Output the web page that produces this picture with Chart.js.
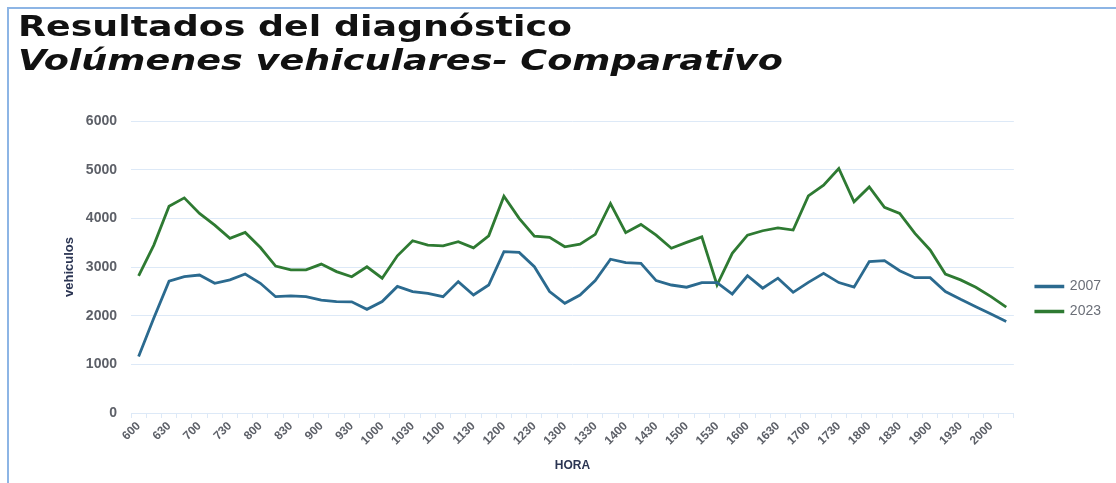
<!DOCTYPE html>
<html>
<head>
<meta charset="utf-8">
<script src="https://cdn.jsdelivr.net/npm/chart.js@4.4.1/dist/chart.umd.min.js"></script>
<style>
    html, body { margin: 0; padding: 0; background: #fff; }
    #page { position: relative; width: 1116px; height: 483px; overflow: hidden; }
    #frame {
        position: absolute; left: 7px; top: 7px; right: -10px; bottom: -10px;
        border-top: 2px solid #8db5e5; border-left: 2px solid #8db5e5;
    }
    .title {
        position: absolute; left: 18px; margin: 0; white-space: nowrap;
        font-family: "DejaVu Sans", sans-serif; font-weight: 700; font-size: 29px;
        line-height: 29px; color: #111; transform-origin: 0 0;
    }
    #t1 { top: 12px; }
    #t2 { top: 46px; font-style: italic; }
    #wrap { position: absolute; left: 0; top: 0; width: 1116px; height: 483px; }
</style>
</head>
<body>
<div id="page">
    <div id="frame"></div>
    <div id="wrap"><canvas id="chart"></canvas></div>
    <div class="title" id="t1" data-w="554">Resultados del diagnóstico</div>
    <div class="title" id="t2" data-w="765">Volúmenes vehiculares- Comparativo</div>
</div>
<script>
// horas cada 15 minutos
const horas = [
    "600", "615", "630", "645", "700", "715", "730", "745", "800", "815",
    "830", "845", "900", "915", "930", "945", "1000", "1015", "1030", "1045",
    "1100", "1115", "1130", "1145", "1200", "1215", "1230", "1245", "1300", "1315",
    "1330", "1345", "1400", "1415", "1430", "1445", "1500", "1515", "1530", "1545",
    "1600", "1615", "1630", "1645", "1700", "1715", "1730", "1745", "1800", "1815",
    "1830", "1845", "1900", "1915", "1930", "1945", "2000", "2015",
];

const vol2007 = [
    1160, 1950, 2710, 2800, 2835, 2665, 2735, 2855, 2665, 2390,
    2405, 2390, 2320, 2290, 2285, 2130, 2290, 2600, 2495, 2460,
    2390, 2700, 2425, 2630, 3315, 3300, 3005, 2495, 2255, 2425,
    2720, 3160, 3090, 3075, 2720, 2630, 2585, 2680, 2680, 2445,
    2820, 2565, 2770, 2480, 2685, 2870, 2680, 2585, 3110, 3130,
    2925, 2780, 2780, 2495, 2335, 2185, 2035, 1880,
];

const vol2023 = [
    2820, 3450, 4250, 4420, 4100, 3860, 3590, 3710, 3400, 3020,
    2940, 2940, 3060, 2905, 2800, 3005, 2770, 3230, 3540, 3450,
    3435, 3520, 3395, 3640, 4455, 4000, 3635, 3610, 3415, 3470,
    3670, 4305, 3705, 3875, 3655, 3385, 3505, 3620, 2630, 3280,
    3655, 3745, 3805, 3760, 4460, 4680, 5025, 4340, 4645, 4225,
    4100, 3690, 3350, 2855, 2735, 2585, 2390, 2175,
];

const yTicks = [0, 1000, 2000, 3000, 4000, 5000, 6000];

const BLUE = "#2b6a8f";
const GREEN = "#2e7a32";
const GRID = "#dde9f7";
const FONT = "Arial, 'Liberation Sans'";

// stretch the headings to the width they have in the slide
document.querySelectorAll(".title").forEach((el) => {
    const w = el.getBoundingClientRect().width;
    el.style.transform = `scaleX(${Number(el.dataset.w) / w})`;
});

// legend sits a bit away from the plot, like in the slide
const legendShift = {
    id: "legendShift",
    afterLayout: (chart) => {
        chart.legend.left += 11;
        chart.legend.right += 11;
    },
};

new Chart(document.getElementById("chart"), {
    type: "line",
    data: {
        labels: horas,
        datasets: [
            {
                label: "2007",
                data: vol2007,
                borderColor: BLUE,
                backgroundColor: BLUE,
                borderWidth: 2.8,
                pointRadius: 0,
                tension: 0,
            },
            {
                label: "2023",
                data: vol2023,
                borderColor: GREEN,
                backgroundColor: GREEN,
                borderWidth: 2.8,
                pointRadius: 0,
                tension: 0,
            },
        ],
    },
    options: {
        responsive: true,
        maintainAspectRatio: false,
        animation: false,
        layout: { padding: { left: 58, top: 121, right: 16, bottom: 6 } },
        plugins: {
            tooltip: { enabled: false },
            legend: {
                position: "right",
                labels: {
                    boxWidth: 27,
                    boxHeight: 0.5,
                    padding: 11,
                    color: "#6b6f78",
                    font: { family: FONT, size: 14 },
                },
            },
        },
        scales: {
            x: {
                offset: true,
                grid: {
                    offset: true,
                    drawOnChartArea: false,
                    tickLength: 5,
                    color: GRID,
                },
                border: { color: GRID },
                ticks: {
                    autoSkip: false,
                    minRotation: 45,
                    maxRotation: 45,
                    padding: 1,
                    color: "#5d6068",
                    font: { family: FONT, size: 12, weight: "bold" },
                    callback: (v, i) => (i % 2 === 0 ? horas[i] : ""),
                },
                title: {
                    display: true,
                    text: "HORA",
                    color: "#2b3553",
                    padding: { top: 0, bottom: 4 },
                    font: { family: FONT, size: 12, weight: "bold" },
                },
                afterFit: (s) => { s.height = 64; },
            },
            y: {
                min: 0,
                max: 6000,
                afterBuildTicks: (s) => { s.ticks = yTicks.map((v) => ({ value: v })); },
                grid: { color: GRID, drawTicks: false },
                border: { display: false },
                ticks: {
                    padding: 14,
                    color: "#5d6068",
                    font: { family: FONT, size: 14, weight: "bold" },
                    callback: (v) => String(v),
                },
                title: {
                    display: true,
                    text: "vehiculos",
                    color: "#2b3553",
                    padding: 4,
                    font: { family: FONT, size: 13, weight: "bold" },
                },
                afterFit: (s) => { s.width = 73; },
            },
        },
    },
    plugins: [legendShift],
});
</script>
</body>
</html>
